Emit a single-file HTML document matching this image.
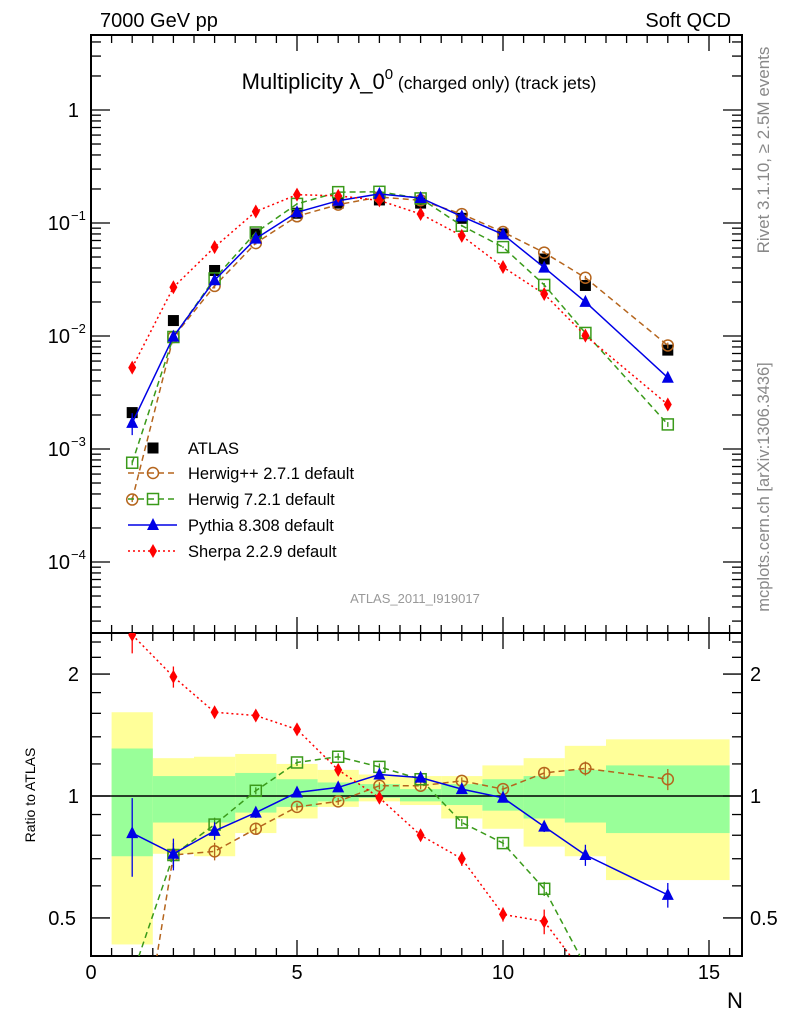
<!DOCTYPE html>
<html><head><meta charset="utf-8"><style>
html,body{margin:0;background:#fff;width:786px;height:1024px;overflow:hidden}
svg{display:block;overflow:hidden;font-family:"Liberation Sans","DejaVu Sans",sans-serif}
</style></head><body>
<svg id="c" width="786" height="1024" viewBox="0 0 786 1024"></svg>
<script>
const categories=[1,2,3,4,5,6,7,8,9,10,11,12,14];
const atlasValues=[0.0021,0.0137,0.038,0.080,0.122,0.150,0.160,0.150,0.110,0.080,0.048,0.028,0.0075];
const herwigppRatio=[0.17,0.715,0.73,0.83,0.94,0.97,1.06,1.06,1.09,1.04,1.14,1.17,1.10];
const herwig7Ratio=[0.36,0.715,0.85,1.03,1.21,1.25,1.18,1.10,0.86,0.765,0.59,0.38,0.22];
const pythiaRatio=[0.81,0.72,0.82,0.91,1.02,1.05,1.13,1.11,1.04,0.99,0.84,0.715,0.57];
const sherpaRatio=[2.5,1.97,1.61,1.58,1.46,1.16,0.99,0.80,0.70,0.51,0.49,0.36,0.33];
const pythiaErr=[0.22,0.09,0.05,0.03,0.02,0.02,0.02,0.02,0.02,0.02,0.03,0.06,0.07];
const herwigppErr=[0.05,0.07,0.05,0.03,0.02,0.02,0.02,0.02,0.02,0.02,0.03,0.04,0.06];
const herwig7Err=[0.05,0.07,0.04,0.02,0.02,0.02,0.02,0.02,0.02,0.02,0.04,0.04,0.05];
const sherpaErr=[0.1,0.06,0.03,0.03,0.03,0.03,0.02,0.03,0.04,0.04,0.07,0.05,0.05];
const binLo=[0.5,1.5,2.5,3.5,4.5,5.5,6.5,7.5,8.5,9.5,10.5,11.5,12.5];
const binHi=[1.5,2.5,3.5,4.5,5.5,6.5,7.5,8.5,9.5,10.5,11.5,12.5,15.5];
const yellowHi=[1.61,1.24,1.25,1.27,1.20,1.16,1.13,1.12,1.12,1.19,1.24,1.33,1.38];
const yellowLo=[0.43,0.72,0.71,0.81,0.88,0.94,0.97,0.95,0.88,0.83,0.75,0.71,0.62];
const greenHi=[1.31,1.12,1.12,1.14,1.10,1.08,1.07,1.04,1.07,1.10,1.12,1.16,1.19];
const greenLo=[0.71,0.86,0.86,0.91,0.94,0.97,0.99,0.97,0.95,0.92,0.88,0.86,0.81];
const mainTickLabels=["1","10","10","10","10"];
const mainTickExp=["","−1","−2","−3","−4"];
const xTickLabels=["0","5","10","15"];
const ratioTickLabels=["0.5","1","2"];

const NS="http://www.w3.org/2000/svg";
const svg=document.getElementById('c');
function el(tag,attrs,parent){const e=document.createElementNS(NS,tag);for(const k in attrs)e.setAttribute(k,attrs[k]);(parent||svg).appendChild(e);return e;}
const L=91,R=742,MT=35,MB=633,RT=633,RB=956;
const X=v=>L+(v)*41.2;
const YM=v=>110-Math.log10(v)*113;
const YR=v=>796-Math.log10(v)*405;

const defs=el('defs',{});
const cp1=el('clipPath',{id:'cm'},defs);el('rect',{x:L,y:MT,width:R-L,height:MB-MT},cp1);
const cp2=el('clipPath',{id:'cr'},defs);el('rect',{x:L,y:RT,width:R-L,height:RB-RT},cp2);

const gBands=el('g',{'clip-path':'url(#cr)'});

binLo.forEach((lo,i)=>{
  const r=el('rect',{x:X(lo),y:YR(yellowHi[i]),width:X(binHi[i])-X(lo),height:YR(yellowLo[i])-YR(yellowHi[i]),fill:'#ffff99'},gBands);
  
});
binLo.forEach((lo,i)=>{
  const r=el('rect',{x:X(lo),y:YR(greenHi[i]),width:X(binHi[i])-X(lo),height:YR(greenLo[i])-YR(greenHi[i]),fill:'#99ff99'},gBands);
  
});
el('line',{x1:L,x2:R,y1:YR(1),y2:YR(1),stroke:'#000','stroke-width':1.5},gBands);

function frame(top,bot,name){
  const r=el('rect',{x:L,y:top,width:R-L,height:bot-top,fill:'none',stroke:'#000','stroke-width':2});
  
  for(let v=0;v<=15.5;v+=0.5){const major=v%5===0;const len=major?16:8;
    el('line',{x1:X(v),x2:X(v),y1:bot,y2:bot-len,stroke:'#000','stroke-width':1.3});
    el('line',{x1:X(v),x2:X(v),y1:top,y2:top+len,stroke:'#000','stroke-width':1.3});}
}
frame(MT,MB,'main-plot-frame');frame(RT,RB,'ratio-plot-frame');
for(let d=-5;d<=0;d++){for(let m=1;m<10;m++){const v=m*Math.pow(10,d);const y=YM(v);if(y<MT||y>MB)continue;const len=m===1?19:10;
  el('line',{x1:L,x2:L+len,y1:y,y2:y,stroke:'#000','stroke-width':1.3});el('line',{x1:R,x2:R-len,y1:y,y2:y,stroke:'#000','stroke-width':1.3});}}
[0.4,0.5,0.6,0.7,0.8,0.9,1,1.2,1.4,1.6,1.8,2,2.2,2.4].forEach(v=>{const y=YR(v);if(y<RT||y>RB)return;const len=(v===0.5||v===1||v===2)?19:10;
  el('line',{x1:L,x2:L+len,y1:y,y2:y,stroke:'#000','stroke-width':1.3});el('line',{x1:R,x2:R-len,y1:y,y2:y,stroke:'#000','stroke-width':1.3});});

mainTickLabels.forEach((t,i)=>{const y=YM(Math.pow(10,-i));
  const tx=el('text',{x:i===0?79:70,y:y+7,'font-size':20,'text-anchor':'end'});tx.textContent=t;
  
  if(mainTickExp[i]){const s=el('text',{x:71,y:y-3,'font-size':13});s.textContent=mainTickExp[i];}});
xTickLabels.forEach((t,i)=>{const tx=el('text',{x:X(i*5),y:979,'font-size':20,'text-anchor':'middle'});tx.textContent=t;
  });
[0.5,1,2].forEach((v,i)=>{const y=YR(v)+7;
  const a=el('text',{x:i===0?76:79,y:y,'font-size':20,'text-anchor':'end'});a.textContent=ratioTickLabels[i];
  
  const b=el('text',{x:750,y:y,'font-size':20});b.textContent=ratioTickLabels[i];
  });

function txt(s,attrs,name){const t=el('text',attrs);t.textContent=s;return t;}
txt('7000 GeV pp',{x:100,y:27,'font-size':20},'energy-label');
txt('Soft QCD',{x:731,y:27,'font-size':20,'text-anchor':'end'},'process-label');
const tt=el('text',{x:419,y:89,'font-size':22,'text-anchor':'middle'});

tt.innerHTML='Multiplicity λ_0<tspan dy="-10" font-size="15">0</tspan><tspan dy="10" font-size="17.5"> (charged only) (track jets)</tspan>';
txt('ATLAS_2011_I919017',{x:415,y:603,'font-size':13,fill:'#999','text-anchor':'middle'},'analysis-id');
txt('N',{x:735,y:1008,'font-size':22,'text-anchor':'middle'},'x-axis-title');
txt('Ratio to ATLAS',{x:35,y:795,'font-size':14,'text-anchor':'middle',transform:'rotate(-90 35 795)'},'y-axis-title');
txt('Rivet 3.1.10, ≥ 2.5M events',{x:769,y:150,'font-size':17,fill:'#888','text-anchor':'middle',transform:'rotate(-90 769 150)'},'rivet-version');
txt('mcplots.cern.ch [arXiv:1306.3436]',{x:769,y:487,'font-size':16.5,fill:'#888','text-anchor':'middle',transform:'rotate(-90 769 487)'},'mcplots-credit');

function marker(g,type,x,y,col,name){let m;
  if(type==='sq')m=el('rect',{x:x-5.5,y:y-5.5,width:11,height:11,fill:'#000'},g);
  else if(type==='circ')m=el('circle',{cx:x,cy:y,r:5.5,fill:'none',stroke:col,'stroke-width':1.5},g);
  else if(type==='osq')m=el('rect',{x:x-5.5,y:y-5.5,width:11,height:11,fill:'none',stroke:col,'stroke-width':1.5},g);
  else if(type==='tri')m=el('polygon',{points:`${x},${y-7} ${x-6},${y+5} ${x+6},${y+5}`,fill:col},g);
  else m=el('polygon',{points:`${x},${y-7} ${x-4},${y} ${x},${y+7} ${x+4},${y}`,fill:col},g);
  }
const series=[
 {name:'herwigpp',ratio:herwigppRatio,err:herwigppErr,col:'#b5651d',dash:'6,4',type:'circ',label:'Herwig++ 2.7.1 default'},
 {name:'herwig7',ratio:herwig7Ratio,err:herwig7Err,col:'#3a9a1a',dash:'6,4',type:'osq',label:'Herwig 7.2.1 default'},
 {name:'pythia',ratio:pythiaRatio,err:pythiaErr,col:'#0000e6',dash:'',type:'tri',label:'Pythia 8.308 default'},
 {name:'sherpa',ratio:sherpaRatio,err:sherpaErr,col:'#ff0000',dash:'2,3',type:'dia',label:'Sherpa 2.2.9 default'}];
const gm=el('g',{'clip-path':'url(#cm)'});
const gr=el('g',{'clip-path':'url(#cr)'});
categories.forEach((c,i)=>marker(gm,'sq',X(c),YM(atlasValues[i]),'#000','atlas-point'));
series.forEach(s=>{
  const mainPts=categories.map((c,i)=>[X(c),YM(s.ratio[i]*atlasValues[i])]);
  const ratPts=categories.map((c,i)=>[X(c),YR(s.ratio[i])]);
  const pl=el('polyline',{points:mainPts.map(p=>p.join(',')).join(' '),fill:'none',stroke:s.col,'stroke-width':1.5,'stroke-dasharray':s.dash},gm);
  
  const pr=el('polyline',{points:ratPts.map(p=>p.join(',')).join(' '),fill:'none',stroke:s.col,'stroke-width':1.5,'stroke-dasharray':s.dash},gr);
  
  categories.forEach((c,i)=>{
    const v=s.ratio[i],e=s.err[i];
    el('line',{x1:X(c),x2:X(c),y1:YR(v*(1+e)),y2:YR(v*(1-e)),stroke:s.col,'stroke-width':1.3},gr);
    el('line',{x1:X(c),x2:X(c),y1:YM(v*atlasValues[i]*(1+e)),y2:YM(v*atlasValues[i]*(1-e)),stroke:s.col,'stroke-width':1.3},gm);
    marker(gm,s.type,mainPts[i][0],mainPts[i][1],s.col,s.name+'-point');
    marker(gr,s.type,ratPts[i][0],ratPts[i][1],s.col,s.name+'-ratio-point');
  });
});
const lg=el('g',{});
marker(lg,'sq',153,448,'#000','legend-atlas-marker');
txt('ATLAS',{x:188,y:454,'font-size':16.5},'legend-entry');
series.forEach((s,i)=>{const y=473+26*i;
  el('line',{x1:128,x2:177,y1:y,y2:y,stroke:s.col,'stroke-width':1.5,'stroke-dasharray':s.dash},lg);
  marker(lg,s.type,153,y,s.col,'legend-marker');
  const t=el('text',{x:188,y:y+6,'font-size':16.5},lg);t.textContent=s.label;
  });
</script>
</body></html>
